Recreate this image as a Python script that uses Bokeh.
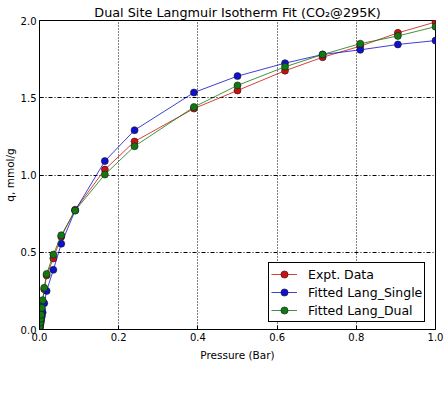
from bokeh.plotting import figure
from bokeh.models import FixedTicker, PrintfTickFormatter, Legend, LegendItem
from bokeh.embed import file_html
from bokeh.resources import INLINE

pressure = [0.001, 0.002, 0.003, 0.004, 0.006, 0.008, 0.012, 0.018, 0.035, 0.055,
            0.09, 0.165, 0.24, 0.39, 0.5, 0.62, 0.715, 0.81, 0.905, 1.0]
expt = [0.015, 0.04, 0.065, 0.09, 0.13, 0.18, 0.26, 0.35, 0.46, 0.60,
        0.775, 1.035, 1.217, 1.43, 1.547, 1.675, 1.762, 1.834, 1.92, 1.99]
single = [0.015, 0.03, 0.045, 0.06, 0.085, 0.11, 0.17, 0.25, 0.386, 0.555,
          0.77, 1.09, 1.29, 1.534, 1.64, 1.724, 1.78, 1.81, 1.845, 1.87]
dual = [0.02, 0.045, 0.07, 0.095, 0.14, 0.19, 0.27, 0.36, 0.485, 0.61,
        0.77, 1.003, 1.186, 1.44, 1.58, 1.70, 1.78, 1.85, 1.90, 1.96]

x_ticks = [0.0, 0.2, 0.4, 0.6, 0.8, 1.0]
y_ticks = [0.0, 0.5, 1.0, 1.5, 2.0]

FONT = "DejaVu Sans"

p = figure(width=447, height=402, output_backend="svg", toolbar_location=None,
           x_range=(0, 1.0), y_range=(0, 2.0),
           min_border_left=38, min_border_right=12, min_border_top=20, min_border_bottom=73,
           title="Dual Site Langmuir Isotherm Fit (CO\u2082@295K)")
p.title.align = "center"
p.title.text_font = FONT
p.title.text_font_size = "12.8px"
p.title.text_font_style = "normal"
p.title.text_color = "#000000"
p.title.standoff = 2

p.outline_line_color = "black"
p.outline_line_width = 1
p.outline_line_alpha = 1

for ax in (p.xaxis[0], p.yaxis[0]):
    ax.major_label_text_font = FONT
    ax.major_label_text_font_size = "10px"
    ax.major_label_text_color = "#000000"
    ax.axis_label_text_font = FONT
    ax.axis_label_text_font_size = "10.5px"
    ax.axis_label_text_font_style = "normal"
    ax.axis_label_text_color = "#000000"
    ax.major_tick_in = 4
    ax.major_tick_out = 0
    ax.minor_tick_line_color = None
    ax.axis_line_color = "black"

p.xaxis.ticker = FixedTicker(ticks=x_ticks)
p.yaxis.ticker = FixedTicker(ticks=y_ticks)
p.xaxis.formatter = PrintfTickFormatter(format="%.1f")
p.yaxis.formatter = PrintfTickFormatter(format="%.1f")
p.xaxis.axis_label = "Pressure (Bar)"
p.yaxis.axis_label = "q, mmol/g"
p.xaxis.major_label_standoff = 3
p.xaxis.axis_label_standoff = 5
p.yaxis.major_label_standoff = 3
p.yaxis.axis_label_standoff = 2

p.xgrid.grid_line_color = "black"
p.xgrid.grid_line_dash = "1 2"
p.xgrid.grid_line_width = 1
p.ygrid.grid_line_color = "black"
p.ygrid.grid_line_dash = "4 2 1 2"
p.ygrid.grid_line_width = 1

series = [("Expt. Data", expt, "#d01010"),
          ("Fitted Lang_Single", single, "#1010d0"),
          ("Fitted Lang_Dual", dual, "#107a10")]
items = []
for name, ys, col in series:
    l = p.line(pressure, ys, line_color=col, line_width=1, line_alpha=0.8)
    s = p.scatter(pressure, ys, marker="circle", size=7, fill_color=col,
                  line_color="#1a1a1a", line_width=0.6)
    items.append(LegendItem(label=name, renderers=[l, s]))

legend = Legend(items=items, location=(229, 7))
legend.label_text_font = FONT
legend.label_text_font_size = "12.5px"
legend.label_text_color = "#000000"
legend.border_line_color = "black"
legend.border_line_width = 1
legend.border_line_alpha = 1
legend.background_fill_alpha = 1
legend.padding = 2
legend.spacing = 0
legend.margin = 0
legend.label_height = 18
legend.glyph_height = 18
legend.glyph_width = 26
legend.label_standoff = 11
legend.label_text_baseline = "middle"
p.add_layout(legend, "center")

open("out.html", "w").write(file_html(p, INLINE))
